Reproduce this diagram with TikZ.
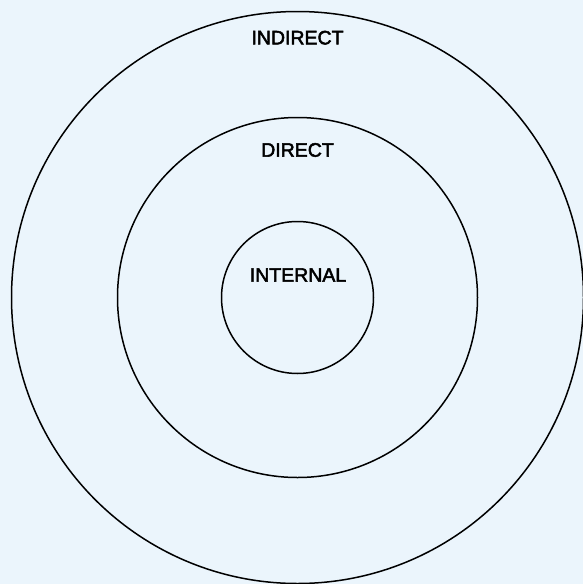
\documentclass[tikz,border=0pt]{standalone}
\usepackage{fontspec}
\setmainfont{Liberation Sans}
\newfontfamily\ringfont{Liberation Sans}[FakeBold=2.6]
\definecolor{paleblue}{RGB}{235,245,252}
\begin{document}
\begin{tikzpicture}[x=1pt,y=-1pt,
  ring/.style={draw=black,line width=1.5pt},
  ringlabel/.style={font=\ringfont\fontsize{19.5}{22}\selectfont,text=black}]
  \fill[paleblue] (0,0) rectangle (583,584);
  \useasboundingbox (0,0) rectangle (583,584);
  \coordinate (c) at (297.5,297.5);
  \draw[ring] (c) circle (286pt);
  \draw[ring] (c) circle (180pt);
  \draw[ring] (c) circle (76pt);
  \node[ringlabel] (indirect) at (297.5,37.7) {INDIRECT};
  \node[ringlabel] (direct) at (297.5,150) {DIRECT};
  \node[ringlabel] (internal) at (298,275) {INTERNAL};
\end{tikzpicture}
\end{document}
